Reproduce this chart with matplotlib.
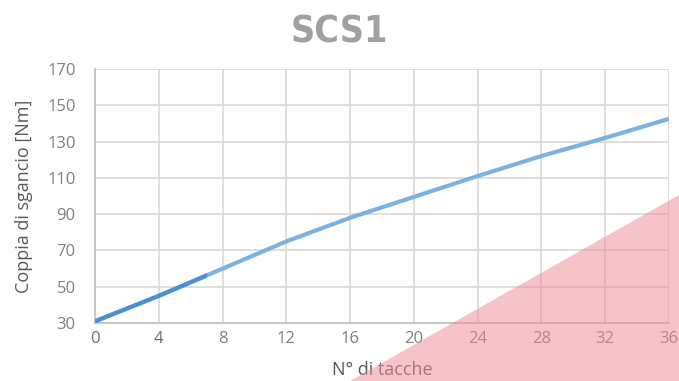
import matplotlib.pyplot as plt
from matplotlib.patches import Polygon, Rectangle

title = 'SCS1'
tacche = [0, 4, 8, 12, 16, 20, 24, 28, 32, 36]
coppia = [31, 45, 60, 75, 88, 99.5, 111, 122, 132, 142.5]
x_ticks = [0, 4, 8, 12, 16, 20, 24, 28, 32, 36]
y_ticks = [30, 50, 70, 90, 110, 130, 150, 170]

plt.rcParams['font.family'] = ['Open Sans', 'DejaVu Sans']

fig = plt.figure(figsize=(6.79, 3.81), dpi=100)
ax = fig.add_axes([0.140, 0.152, 0.845, 0.667])

ax.plot(tacche, coppia, color='#7DB2E0', linewidth=3, solid_capstyle='butt', zorder=3)
# darker start of the line, as in the original picture
dark, = ax.plot(tacche, coppia, color='#4A90D2', linewidth=3, solid_capstyle='butt', zorder=4)
clip = Rectangle((0, 0), 7, 200, transform=ax.transData)
dark.set_clip_path(clip)

ax.set_xlim(0, 36)
ax.set_ylim(30, 170)
ax.set_xticks(x_ticks)
ax.set_yticks(y_ticks)
ax.grid(True, color='#D9D9D9', linewidth=1.2)
ax.set_axisbelow(True)
ax.tick_params(length=0, labelsize=12, labelcolor='#808080')
ax.tick_params(axis='y', pad=14)
ax.tick_params(axis='x', pad=6)
for lbl in ax.get_xticklabels()[:2]:
    lbl.set_color('#6E6E6E')

for s in ['top', 'right']:
    ax.spines[s].set_visible(False)
ax.spines['left'].set_color('#BFBFBF')
ax.spines['bottom'].set_color('#BFBFBF')
ax.spines['left'].set_linewidth(1.2)
ax.spines['bottom'].set_linewidth(1.2)

ax.set_ylabel('Coppia di sgancio [Nm]', fontsize=13, color='#595959', labelpad=10)
ax.set_xlabel('N° di tacche', fontsize=13, color='#595959', labelpad=10)

fig.text(0.5, 0.915, title, ha='center', va='center', fontsize=27,
         fontweight='bold', fontstretch='condensed', color='#A0A0A4',
         family=['DejaVu Sans'])

# pink decoration in the bottom-right corner
tri = Polygon([(350 / 679, 0), (1, 1 - 195 / 381), (1, 0)], closed=True,
              transform=fig.transFigure, facecolor='#EE8C96', alpha=0.52,
              edgecolor='none', zorder=10)
fig.patches.append(tri)

fig.savefig('out.png', dpi=100)
